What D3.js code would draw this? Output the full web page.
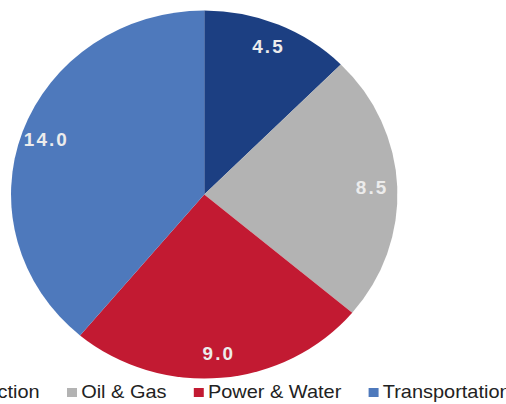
<!DOCTYPE html>
<html>
<head>
<meta charset="utf-8">
<script src="https://cdn.jsdelivr.net/npm/d3@7"></script>
<style>
  body { margin: 0; background: #fff; }
  svg { display: block; }
</style>
</head>
<body>
<div id="container"></div>
<script>
// Chart size
const width = 506;
const height = 404;

// Data
const categories = ["Construction", "Oil & Gas", "Power & Water", "Transportation"];
const values = [4.5, 8.5, 9.0, 14.0];
const colors = ["#1c3f82", "#b3b3b3", "#c21a32", "#4e79bc"];

// the picture is a bit stretched horizontally
const stretchX = 1.05;
const cx = 194.5;
const cy = 194.5;
const radius = 184;
const labelRadius = 160;

const svg = d3.select("#container")
    .append("svg")
    .attr("width", width)
    .attr("height", height);

const root = svg.append("g")
    .attr("transform", `scale(${stretchX},1)`);

const pie = d3.pie().sort(null).value(d => d.value);
const arcs = pie(categories.map((c, i) => ({ name: c, value: values[i], color: colors[i] })));

const arc = d3.arc().innerRadius(0).outerRadius(radius);
const labelArc = d3.arc().innerRadius(labelRadius).outerRadius(labelRadius);

const g = root.append("g").attr("transform", `translate(${cx},${cy})`);

g.selectAll("path")
    .data(arcs)
    .enter()
    .append("path")
    .attr("d", arc)
    .attr("fill", d => d.data.color);

// data labels
g.selectAll("text")
    .data(arcs)
    .enter()
    .append("text")
    .attr("transform", d => `translate(${labelArc.centroid(d)})`)
    .attr("text-anchor", "middle")
    .attr("dy", "0.35em")
    .attr("font-family", "Liberation Sans, Arial, sans-serif")
    .attr("font-weight", "bold")
    .attr("font-size", 18)
    .attr("letter-spacing", 2)
    .attr("fill", "#ececec")
    .text(d => d3.format(".1f")(d.data.value));

// legend
const legend = root.append("g")
    .attr("font-family", "Liberation Sans, Arial, sans-serif")
    .attr("font-size", 19)
    .attr("fill", "#222");

const items = legend.selectAll("g")
    .data(arcs)
    .enter()
    .append("g");

items.append("rect")
    .attr("width", 9.5)
    .attr("height", 9)
    .attr("y", 388)
    .attr("fill", d => d.data.color);

items.append("text")
    .attr("x", 13.5)
    .attr("y", 398)
    .text(d => d.data.name);

// place the items one after the other, centred under the pie
let pos = 0;
const offsets = [];
items.each(function () {
    offsets.push(pos);
    const w = d3.select(this).select("text").node().getComputedTextLength();
    pos += 13.5 + w + 26;
});
const total = pos - 26;
const start = 202 - total / 2;
items.attr("transform", (d, i) => `translate(${start + offsets[i]},0)`);
</script>
</body>
</html>
